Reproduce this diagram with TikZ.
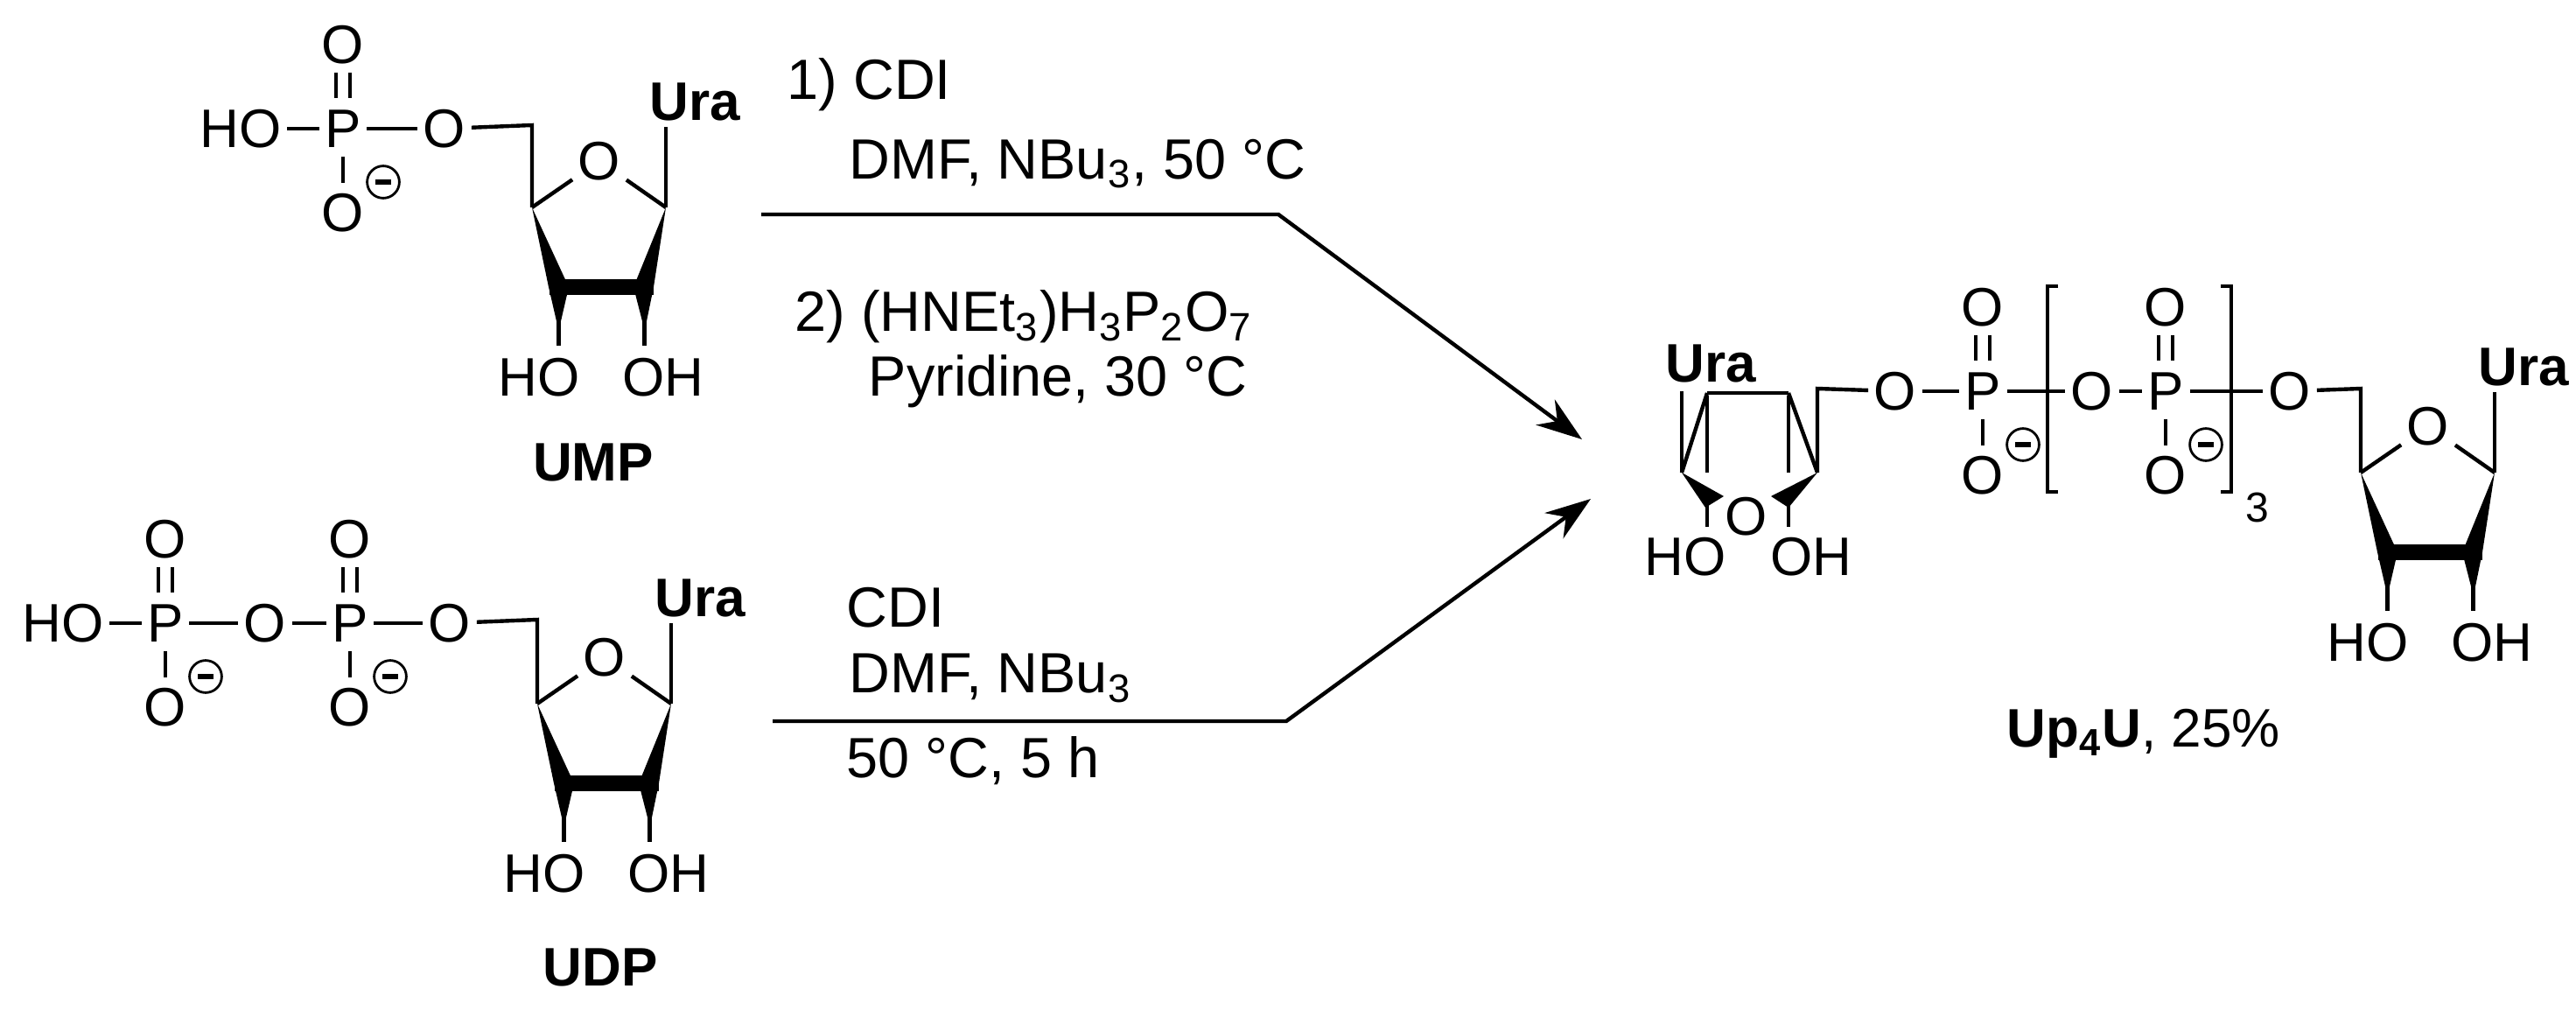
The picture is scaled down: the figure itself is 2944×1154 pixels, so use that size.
\documentclass[tikz,border=0pt]{standalone}
\usepackage{fontspec}
\setmainfont{Liberation Sans}
\usetikzlibrary{arrows.meta,calc}
\tikzset{
  atom/.style={inner sep=1.5pt,font=\fontsize{15.5}{16}\selectfont},
  lab/.style={inner sep=0pt,font=\fontsize{15.5}{16}\selectfont\bfseries},
  cond/.style={inner sep=0pt,anchor=west,font=\fontsize{16.2}{17}\selectfont},
  bond/.style={line width=1.1pt},
  rxn/.style={line width=1.1pt,-{Stealth[length=13pt,width=9pt]}},
}
\newcommand\negchg[1]{\draw[line width=0.7pt] #1 circle (4.6pt); \draw[line width=1.7pt] ($#1+(-9,0)$) -- ($#1+(9,0)$);}
% phosphate: #1 name prefix, #2 coordinate of P
\newcommand\phos[2]{%
  \node[atom] (#1) at #2 {P};
  \node[atom] (#1t) at ($#2+(0,-96)$) {O};
  \node[atom] (#1b) at ($#2+(0,96)$) {O};
  \draw[bond] ($#2+(-8,-64)$) -- ($#2+(-8,-35)$);
  \draw[bond] ($#2+(8,-64)$) -- ($#2+(8,-35)$);
  \draw[bond] ($#2+(0,32)$) -- ($#2+(0,62)$);
  \negchg{($#2+(46,61)$)}
}
% ribose with C4' at #1 (prefix #2)
\newcommand\ribose[2]{%
  \begin{scope}[shift={#1}]
  \coordinate (#2c4) at (0,0);
  \coordinate (#2c1) at (153,0);
  \node[atom] (#2ring) at (77,-53) {O};
  \draw[bond] (#2c4) -- (#2ring) -- (#2c1);
  \fill (0,0) -- (19,91) -- (42,91) -- cycle;
  \fill (153,0) -- (139,91) -- (116,91) -- cycle;
  \fill (20,82) rectangle (139,100);
  \fill (19,91) -- (42,91) -- (33,130) -- (28,130) -- cycle;
  \fill (116,91) -- (139,91) -- (131,130) -- (126,130) -- cycle;
  \draw[bond] (30.5,125) -- (30.5,158);
  \draw[bond] (128.5,125) -- (128.5,158);
  \node[atom] (#2ho) at (8,194) {HO};
  \node[atom] (#2oh) at (150,194) {OH};
  \draw[bond] (#2c1) -- (153,-92);
  \node[lab] (#2ura) at (186,-121) {Ura};
  \end{scope}
}
\begin{document}
\begin{tikzpicture}[x=0.25pt,y=-0.25pt]
\useasboundingbox (0,0) rectangle (2944,1154);
% ---------- UMP ----------
\node[atom] (uho) at (275,147) {HO};
\phos{up}{(392,147)}
\node[atom] (uest) at (508,147) {O};
\draw[bond] (uho) -- (up);
\draw[bond] (up) -- (uest);
\ribose{(608,237)}{u}
\draw[bond] (uest) -- (608,143) -- (uc4);
\node[lab] (ump) at (678,528) {UMP};
% ---------- UDP ----------
\node[atom] (dho) at (72,712) {HO};
\phos{dpa}{(189,712)}
\node[atom] (dob) at (303,712) {O};
\phos{dpb}{(400,712)}
\node[atom] (dest) at (514,712) {O};
\draw[bond] (dho) -- (dpa) -- (dob) -- (dpb) -- (dest);
\ribose{(614,804)}{d}
\draw[bond] (dest) -- (614,708) -- (dc4);
\node[lab] (udp) at (686,1105) {UDP};
% ---------- conditions ----------
\node[cond] (c1) at (899,97) {1) CDI};
\node[cond] (c2) at (970,187) {DMF, NBu\textsubscript{3}, 50 °C};
\node[cond] (c3) at (908,362) {2) (HNEt\textsubscript{3})H\textsubscript{3}P\textsubscript{2}O\textsubscript{7}};
\node[cond] (c4) at (992,436) {Pyridine, 30 °C};
\node[cond] (c5) at (967,694) {CDI};
\node[cond] (c6) at (970,775) {DMF, NBu\textsubscript{3}};
\node[cond] (c7) at (967,869) {50 °C, 5 h};
\coordinate (a1s) at (870,245);
\coordinate (a1m) at (1461,245);
\coordinate (a1e) at (1808,502);
\coordinate (a2s) at (883,824);
\coordinate (a2m) at (1470,824);
\coordinate (a2e) at (1818,570);
\draw[rxn] (a1s) -- (a1m) -- (a1e);
\draw[rxn] (a2s) -- (a2m) -- (a2e);
% ---------- Up4U ----------
\node[lab] (lura) at (1955,415) {Ura};
\draw[bond] (1922,447) -- (1922,540);
\draw[bond] (1951,449) -- (2044,449);
\draw[bond] (1951,449) -- (1922,540);
\draw[bond] (2044,449) -- (2077,540);
\draw[bond] (1951,452) -- (1951,540);
\draw[bond] (2044,452) -- (2044,540);
\fill (1922,540) -- (1949,580) -- (1970,567) -- cycle;
\fill (2077,540) -- (2044,580) -- (2024,567) -- cycle;
\node[atom] (lo) at (1996,590) {O};
\draw[bond] (1951,575) -- (1951,602);
\draw[bond] (2044,575) -- (2044,602);
\node[atom] (lho) at (1926,636) {HO};
\node[atom] (loh) at (2070,636) {OH};
\node[atom] (po1) at (2166,447) {O};
\draw[bond] (2077,540) -- (2077,444) -- (po1);
\phos{pp1}{(2266,447)}
\node[atom] (po2) at (2391,447) {O};
\phos{pp2}{(2475,447)}
\node[atom] (po3) at (2617,447) {O};
\draw[bond] (po1) -- (pp1) -- (po2) -- (pp2) -- (po3);
\draw[bond] (2352,327) -- (2340,327) -- (2340,562) -- (2352,562);
\draw[bond] (2538,327) -- (2550,327) -- (2550,562) -- (2538,562);
\node[atom] (n3) at (2580,580) {\fontsize{12}{12}\selectfont 3};
\ribose{(2698,540)}{r}
\draw[bond] (po3) -- (2698,444) -- (rc4);
\node[inner sep=0pt,font=\fontsize{15.5}{16}\selectfont] (up4u) at (2450,838) {\textbf{Up\textsubscript{4}U}, 25\%};
\end{tikzpicture}
\end{document}
